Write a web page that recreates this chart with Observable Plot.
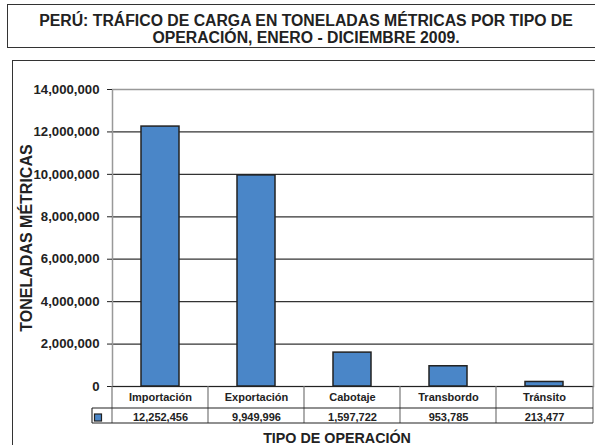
<!DOCTYPE html>
<html>
<head>
<meta charset="utf-8">
<script src="https://cdn.jsdelivr.net/npm/d3@7"></script>
<script src="https://cdn.jsdelivr.net/npm/@observablehq/plot@0.6"></script>
<style>
  html, body { margin: 0; padding: 0; background: #fff; overflow: hidden; }
  #wrap { position: relative; width: 595px; height: 445px; overflow: hidden; font-family: Arial, "Liberation Sans", sans-serif; }
  #title { position: absolute; left: 7px; top: 4px; width: 598px; height: 44px; box-sizing: border-box;
           border: 1.5px solid #333; text-align: center; font-weight: bold; font-size: 15.8px; line-height: 17px;
           padding-top: 7px; color: #222; white-space: nowrap; }
  #outer { position: absolute; left: 12px; top: 60px; width: 600px; height: 400px; box-sizing: border-box;
           border: 1.5px solid #333; }
  #chart { position: absolute; left: 0; top: 0; }
</style>
</head>
<body>
<div id="wrap">
  <div id="outer"></div>
  <div id="title">PERÚ: TRÁFICO DE CARGA EN TONELADAS MÉTRICAS POR TIPO DE<br>OPERACIÓN, ENERO - DICIEMBRE 2009.</div>
  <div id="chart"></div>
</div>
<script>
const categories = ["Importación", "Exportación", "Cabotaje", "Transbordo", "Tránsito"];
const values = [12252456, 9949996, 1597722, 953785, 213477];
const yTicks = [0, 2000000, 4000000, 6000000, 8000000, 10000000, 12000000, 14000000];
const yLabel = "TONELADAS MÉTRICAS";
const xLabel = "TIPO DE OPERACIÓN";

const data = categories.map((c, i) => ({cat: c, value: values[i]}));
const fmt = d3.format(",");
const barColor = "#4a86c8";

function tableMark(index, scales, vals, dims) {
  const x = scales.x, y = scales.y;
  const bw = typeof x.bandwidth === "function" ? x.bandwidth() : 0;
  const y0 = y(0);
  const left = dims.marginLeft, right = dims.width - dims.marginRight;
  const centers = categories.map(c => x(c) + bw / 2);
  const bounds = [left, ...centers.slice(1).map((c, i) => (centers[i] + c) / 2), right];
  const r1 = y0 + 22, r2 = y0 + 37, keyLeft = left - 20;
  const g = d3.create("svg:g");
  g.selectAll("line.v").data(bounds).join("line")
    .attr("x1", d => d).attr("x2", d => d).attr("y1", y0).attr("y2", r2)
    .attr("stroke", "#777").attr("stroke-width", 1.2);
  g.append("line").attr("x1", keyLeft).attr("x2", keyLeft).attr("y1", r1).attr("y2", r2)
    .attr("stroke", "#333").attr("stroke-width", 1.2);
  [r1, r2].forEach(yy => g.append("line").attr("x1", keyLeft).attr("x2", right).attr("y1", yy).attr("y2", yy)
    .attr("stroke", "#222").attr("stroke-width", 1.2));
  g.append("rect").attr("x", keyLeft + 2.5).attr("y", r1 + 6).attr("width", 7).attr("height", 7)
    .attr("fill", barColor).attr("stroke", "#222").attr("stroke-width", 1.2);
  return g.node();
}

const chart = Plot.plot({
  width: 595,
  height: 445,
  marginTop: 89,
  marginBottom: 59,
  marginLeft: 112,
  marginRight: 2,
  style: {fontFamily: "Arial, 'Liberation Sans', sans-serif", fontWeight: "bold", fontSize: "13px", color: "#222", background: "transparent", overflow: "visible"},
  x: {domain: categories, paddingInner: 0.6, paddingOuter: 0.3, axis: null},
  y: {domain: [0, 14000000], axis: null},
  marks: [
    Plot.ruleY(yTicks.slice(1, -1), {stroke: "#333", strokeWidth: 1.2}),
    Plot.frame({stroke: "#999", strokeWidth: 1.5}),
    Plot.barY(data, {x: "cat", y: "value", fill: barColor, stroke: "#222", strokeWidth: 1.5}),
    Plot.ruleY([0], {stroke: "#222", strokeWidth: 1.2}),
    Plot.axisY(yTicks, {tickSize: 5, text: null, label: null, stroke: "#222"}),
    Plot.text(yTicks, {y: d => d, text: d => fmt(d), frameAnchor: "left", dx: -13, textAnchor: "end", lineAnchor: "middle", fontSize: 13.2, fontWeight: "bold"}),
    tableMark,
    Plot.text(data, {x: "cat", y: 0, text: "cat", dy: 11, fontSize: 11, lineAnchor: "middle"}),
    Plot.text(data, {x: "cat", y: 0, text: d => fmt(d.value), dy: 31, fontSize: 11, lineAnchor: "middle"}),
    Plot.text([yLabel], {y: () => 7000000, frameAnchor: "left", text: d => d, rotate: -90, dx: -86, fontSize: 16, textAnchor: "middle", lineAnchor: "middle"}),
    Plot.text([xLabel], {frameAnchor: "bottom", text: d => d, dx: -16, dy: 52, fontSize: 14.3, lineAnchor: "middle"})
  ]
});
document.getElementById("chart").appendChild(chart);
</script>
</body>
</html>
